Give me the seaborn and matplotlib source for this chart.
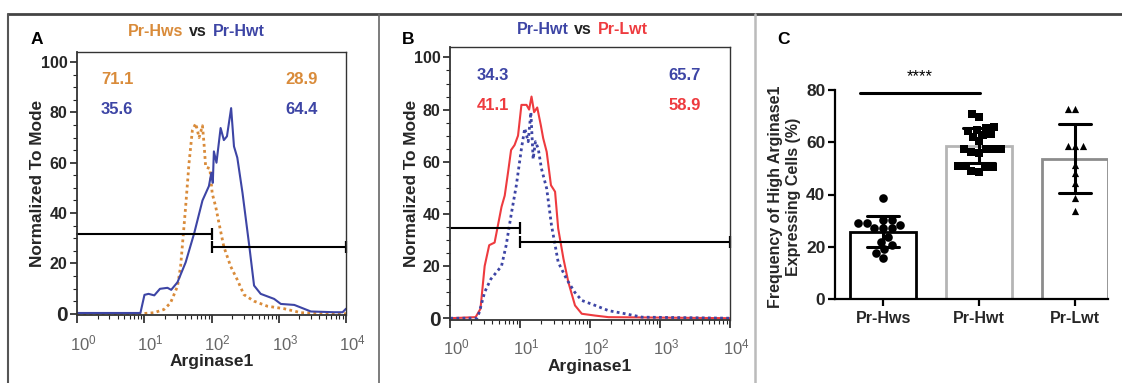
import numpy as np
import pandas as pd
import matplotlib
matplotlib.use("Agg")
import matplotlib.pyplot as plt
import seaborn as sns
from matplotlib.ticker import LogLocator, MultipleLocator, NullFormatter
from matplotlib.lines import Line2D
import matplotlib.transforms as mtransforms

# ---------------- data ----------------
# Panel A: Pr-Hwt (solid blue) and Pr-Hws (dotted orange) histograms
hwt_a_x = [1, 8.7, 10, 11.5, 14, 17, 22, 25, 31, 41, 55, 73, 91, 99, 104, 108, 118, 136,
           152, 169, 195, 215, 241, 288, 363, 428, 537, 851, 1070, 1700, 3000, 6700, 8900, 10000]
hwt_a_y = [0.3, 0.3, 7.5, 7.9, 7.3, 9.9, 10.3, 9.5, 12.5, 20.4, 32, 45, 50.7, 56, 52, 64.5, 60, 73.8,
           69, 70.5, 81.7, 66.5, 62, 48, 27, 11.2, 7.9, 5.9, 3.9, 3.5, 0.9, 0.6, 0.6, 2]
hws_a_x = [1, 8.7, 13.8, 19.5, 24.4, 31, 34.5, 38, 41, 46, 51.6, 58, 65, 73, 77, 81.5, 94, 102,
           115, 129, 152, 192, 241, 302, 428, 675, 1200, 2140, 10000]
hws_a_y = [0, 0, 0.4, 1.7, 4.3, 10.9, 18.8, 32, 42.5, 59.7, 72.8, 75.6, 70, 74.7, 67.5, 58.3, 57.7, 47.8,
           42.5, 35.8, 26.6, 18.8, 13.5, 7.6, 5, 3, 2, 0.4, 0]
# Panel B: Pr-Lwt (solid red) and Pr-Hwt (dotted blue)
lwt_b_x = [1, 2.3, 2.7, 3.1, 3.6, 4.3, 4.8, 5.4, 6.0, 6.7, 7.4, 8.3, 9.3, 10.4, 12.3, 13.4, 14.5, 15.8,
           17.5, 19.7, 21.3, 23.9, 27.5, 31.5, 34.9, 41.5, 48.8, 60.7, 75.9, 118, 183, 10000]
lwt_b_y = [0, 0.4, 3.6, 20, 28, 29, 35.6, 42.7, 47, 56, 64.5, 66.4, 70, 81.8, 81.8, 80, 85, 79,
           80.8, 74, 69, 63.8, 51, 48.5, 34.4, 22.8, 13.8, 4.9, 1.7, 1, 0.4, 0]
hwt_b_x = [1, 2.4, 2.6, 3.1, 3.8, 5.4, 6.3, 7.4, 8.8, 10.4, 11.6, 13, 14.2, 15.3, 16.5, 18.1, 20.1,
           23.9, 28, 34.9, 46, 60, 76, 118, 183, 318, 550, 10000]
hwt_b_y = [0, 0, 2.3, 10, 15, 20, 28, 39.5, 51, 65, 72.8, 67.7, 79, 61, 67.7, 65, 57.4,
           49.7, 35.6, 21.5, 15, 10, 6.8, 4.9, 2.9, 1.7, 0.4, 0]

# gates: (x_start, x_end, y)
gates_a = [(1, 100, 31.6), (100, 10000, 26.5)]
gates_b = [(1, 10, 34.7), (10, 10000, 29.2)]
pct_a = [("71.1", "28.9"), ("35.6", "64.4")]
pct_b = [("34.3", "65.7"), ("41.1", "58.9")]

y_ticks = [0, 20, 40, 60, 80, 100]
x_ticks = [1, 10, 100, 1000, 10000]
x_tick_labels = [r"$10^{0}$", r"$10^{1}$", r"$10^{2}$", r"$10^{3}$", r"$10^{4}$"]

# Panel C
categories = ["Pr-Hws", "Pr-Hwt", "Pr-Lwt"]
hws_vals = [38.6, 30.3, 29, 27, 27, 27, 28.4, 29, 30.3, 23.9, 22, 20.7, 19, 17.7, 15.6]
hwt_vals = [69.5, 70.8, 65.4, 64.4, 62.8, 66, 62.2, 63.1, 64.8, 60.3, 57.4, 57.4, 56.4, 55.8,
            57.4, 57.4, 51.1, 50.7, 48.8, 48.9, 50.7, 51.1]
lwt_vals = [72.8, 72.8, 58.4, 58.4, 58.4, 51.3, 48.2, 44.3, 38.6, 33.5]
c_y_ticks = [0, 20, 40, 60, 80]

# ---------------- style ----------------
sns.set_theme(style="ticks")
plt.rcParams['font.family'] = ['Liberation Sans', 'DejaVu Sans']
plt.rcParams['mathtext.fontset'] = 'custom'
plt.rcParams['mathtext.rm'] = 'Liberation Sans'
plt.rcParams['mathtext.it'] = 'Liberation Sans:italic'
plt.rcParams['mathtext.bf'] = 'Liberation Sans:bold'

ORANGE = '#D98B3A'
BLUE = '#3D45A5'
RED = '#EE3B3F'

W, H = 1122, 383
fig = plt.figure(figsize=(W / 100, H / 100), dpi=100)


def px_axes(l, r, t, b):
    return fig.add_axes([l / W, 1 - b / H, (r - l) / W, (b - t) / H])


def style_hist(ax, ylab_x):
    ax.set_xscale('log')
    ax.set_xlim(0.99, 10000)
    ax.set_ylim(-0.5, 104)
    ax.set_xticks(x_ticks, labels=x_tick_labels)
    ax.xaxis.set_minor_locator(LogLocator(base=10, subs=np.arange(2, 10), numticks=20))
    ax.xaxis.set_minor_formatter(NullFormatter())
    ax.set_yticks(y_ticks, labels=[str(v) for v in y_ticks])
    ax.yaxis.set_minor_locator(MultipleLocator(5))
    ax.tick_params(axis='x', which='major', direction='out', length=6, width=1.2, pad=7,
                   labelsize=12, labelcolor='#666666', color='#222222')
    ax.tick_params(axis='x', which='minor', direction='out', length=3, width=0.8, color='#222222')
    ax.tick_params(axis='y', which='major', direction='out', length=5, width=1.2, pad=2,
                   labelsize=11.5, color='#222222')
    ax.tick_params(axis='y', which='minor', direction='out', length=3, width=0.8, color='#222222')
    for lab in ax.get_yticklabels():
        lab.set_fontweight('bold')
    ax.get_yticklabels()[0].set_fontsize(15)
    off = mtransforms.ScaledTranslation(6 / 100, 0, fig.dpi_scale_trans)
    for lab in ax.get_xticklabels():
        lab.set_transform(lab.get_transform() + off)
    for s in ax.spines.values():
        s.set_color('#333333')
        s.set_linewidth(1.0)
    ax.spines['left'].set_linewidth(1.3)
    ax.spines['bottom'].set_linewidth(1.3)
    ax.set_xlabel("Arginase1", fontsize=12.5, fontweight='bold', labelpad=1)
    ax.set_ylabel("Normalized To Mode", fontsize=12.4, fontweight='bold')
    ax.yaxis.set_label_coords(ylab_x, 0.50)


def draw_gates(ax, gates):
    for i, (x0, x1, y) in enumerate(gates):
        ax.plot([x0, x1], [y, y], color='black', lw=1.5, clip_on=False)
        ends = [x1] if i == 0 else [x0, x1]
        ax.plot(ends, [y] * len(ends), ls='none', marker='|', ms=9, mew=1.6,
                color='black', clip_on=False)


# ---------------- panel A ----------------
axA = px_axes(77, 346, 52, 315)
axA.set_xscale('log')
sns.lineplot(x=hws_a_x, y=hws_a_y, ax=axA, color=ORANGE, lw=2.0, sort=False)
axA.lines[-1].set_dashes((1, 1.2))
sns.lineplot(x=hwt_a_x, y=hwt_a_y, ax=axA, color=BLUE, lw=1.5, sort=False)
draw_gates(axA, gates_a)
style_hist(axA, -0.118)
for (l, r), col, yy in zip(pct_a, [ORANGE, BLUE], [0.894, 0.783]):
    axA.text(0.149, yy, l, transform=axA.transAxes, color=col, fontsize=12,
             fontweight='bold', ha='center', va='center')
    axA.text(0.836, yy, r, transform=axA.transAxes, color=col, fontsize=12,
             fontweight='bold', ha='center', va='center')

# ---------------- panel B ----------------
axB = px_axes(450, 730, 47, 319.5)
axB.set_xscale('log')
sns.lineplot(x=lwt_b_x, y=lwt_b_y, ax=axB, color=RED, lw=1.5, sort=False)
sns.lineplot(x=hwt_b_x, y=hwt_b_y, ax=axB, color=BLUE, lw=2.0, sort=False)
axB.lines[-1].set_dashes((1, 1.2))
draw_gates(axB, gates_b)
style_hist(axB, -0.11)
for (l, r), col, yy in zip(pct_b, [BLUE, RED], [0.897, 0.787]):
    axB.text(0.154, yy, l, transform=axB.transAxes, color=col, fontsize=12,
             fontweight='bold', ha='center', va='center')
    axB.text(0.839, yy, r, transform=axB.transAxes, color=col, fontsize=12,
             fontweight='bold', ha='center', va='center')


# titles with coloured parts
def title(xc, yc, left, lcol, right, rcol):
    vs = fig.text(xc / W, 1 - yc / H, "vs", ha='center', va='center', fontsize=11.5,
                  fontweight='bold', color='#222222')
    fig.text(0, 0, "")
    plt.annotate(left, xy=(0, 0), xycoords=vs, xytext=(-4, 0), textcoords='offset points',
                 ha='right', va='bottom', fontsize=11.5, fontweight='bold', color=lcol,
                 annotation_clip=False)
    plt.annotate(right, xy=(1, 0), xycoords=vs, xytext=(4, 0), textcoords='offset points',
                 ha='left', va='bottom', fontsize=11.5, fontweight='bold', color=rcol,
                 annotation_clip=False)


title(198, 32, "Pr-Hws", ORANGE, "Pr-Hwt", BLUE)
title(583, 30, "Pr-Hwt", BLUE, "Pr-Lwt", RED)

# panel letters
for letter, x in [("A", 37), ("B", 408), ("C", 783)]:
    fig.text(x / W, 1 - 39 / H, letter, ha='center', va='center', fontsize=12.5,
             fontweight='bold', color='black')

# ---------------- panel C ----------------
axC = px_axes(835, 1108, 90, 299)
df = pd.DataFrame({
    'group': ['Pr-Hws'] * len(hws_vals) + ['Pr-Hwt'] * len(hwt_vals) + ['Pr-Lwt'] * len(lwt_vals),
    'value': hws_vals + hwt_vals + lwt_vals,
})
sns.barplot(data=df, x='group', y='value', order=categories, errorbar='sd', capsize=0.33,
            color='white', width=0.69, linewidth=2.0, edgecolor='black',
            err_kws={'color': 'black', 'linewidth': 2.2}, ax=axC)
for patch, ec in zip(axC.patches, ['black', '#B5B5B5', '#8C8C8C']):
    patch.set_edgecolor(ec)
    patch.set_facecolor('white')
for cat, mk, sz in zip(categories, ['o', 's', '^'], [6.2, 5.4, 5.2]):
    sns.swarmplot(data=df[df.group == cat], x='group', y='value', order=categories,
                  marker=mk, color='black', size=sz, linewidth=0, ax=axC)
axC.set_xlim(-0.5, 2.34)
axC.set_ylim(0, 80)
axC.set_yticks(c_y_ticks, labels=[str(v) for v in c_y_ticks])
sns.despine(ax=axC)
for s in ['left', 'bottom']:
    axC.spines[s].set_linewidth(1.6)
    axC.spines[s].set_color('black')
axC.tick_params(axis='y', which='major', direction='out', length=5, width=1.6,
                labelsize=12.5, color='black', pad=2)
axC.tick_params(axis='x', which='major', direction='out', length=5, width=1.6,
                labelsize=11.5, color='black')
for lab in axC.get_xticklabels() + axC.get_yticklabels():
    lab.set_fontweight('bold')
axC.set_xlabel("")
axC.set_ylabel("Frequency of High Arginase1\nExpressing Cells (%)", fontsize=11.5,
               fontweight='bold', linespacing=1.2)
axC.yaxis.set_label_coords(-0.125, 0.49)
axC.plot([-0.24, 1.01], [79, 79], color='black', lw=2.2, clip_on=False)
axC.text(0.38, 85, "****", ha='center', va='center', fontsize=12, color='black')

# ---------------- frame lines ----------------
fig.add_artist(Line2D([8 / W, 1], [1 - 14 / H, 1 - 14 / H], transform=fig.transFigure,
                      color='#444444', lw=2))
fig.add_artist(Line2D([8 / W, 8 / W], [0, 1 - 14 / H], transform=fig.transFigure,
                      color='#555555', lw=1.5))
fig.add_artist(Line2D([379 / W, 379 / W], [0, 1 - 14 / H], transform=fig.transFigure,
                      color='#666666', lw=1.2))
fig.add_artist(Line2D([755 / W, 755 / W], [0, 1 - 14 / H], transform=fig.transFigure,
                      color='#BBBBBB', lw=1.8))

fig.savefig("out.png", dpi=100)
